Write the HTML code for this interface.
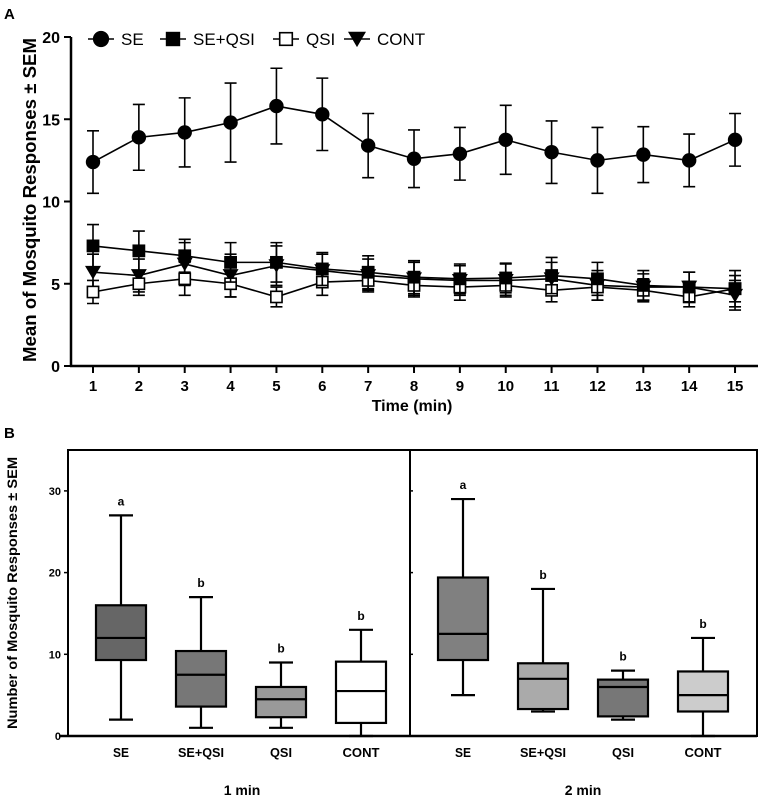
<!DOCTYPE html>
<html><head><meta charset="utf-8"><style>
body{margin:0;background:#fff}
svg{display:block;font-family:"Liberation Sans",Arial,sans-serif}
</style></head><body>
<svg id="chart" width="767" height="799" viewBox="0 0 767 799" xmlns="http://www.w3.org/2000/svg">
<text x="4" y="19" font-size="15" font-weight="bold">A</text>
<text x="4" y="438" font-size="15" font-weight="bold">B</text>
<g id="topchart"></g>
<g id="botchart"></g>
</svg>
<script>
const times=[1,2,3,4,5,6,7,8,9,10,11,12,13,14,15];
const yTicksA=[0,5,10,15,20];
const seMean=[12.4,13.9,14.2,14.8,15.8,15.3,13.4,12.6,12.9,13.75,13.0,12.5,12.85,12.5,13.75];
const seErr=[1.9,2.0,2.1,2.4,2.3,2.2,1.95,1.75,1.6,2.1,1.9,2.0,1.7,1.6,1.6];
const sqMean=[7.3,7.0,6.7,6.3,6.3,5.9,5.7,5.4,5.3,5.35,5.5,5.3,4.9,4.8,4.7];
const sqErr=[1.3,1.2,1.0,1.2,1.2,1.0,1.0,1.0,0.9,0.9,1.1,1.0,0.9,0.9,1.1];
const qsiMean=[4.5,5.0,5.3,5.0,4.2,5.1,5.2,4.9,4.8,4.9,4.6,4.8,4.6,4.2,4.7];
const qsiErr=[0.7,0.7,1.0,0.8,0.6,0.8,0.6,0.7,0.8,0.6,0.7,0.8,0.7,0.6,0.8];
const contMean=[5.7,5.5,6.2,5.5,6.1,5.8,5.5,5.3,5.2,5.2,5.3,4.9,4.8,4.8,4.3];
const contErr=[1.1,1.0,1.3,1.3,1.2,1.0,1.0,1.0,0.9,1.0,1.0,0.9,0.8,0.9,0.9];

const groups=["SE","SE+QSI","QSI","CONT","SE","SE+QSI","QSI","CONT"];
const panels=["1 min","2 min"];
const yTicksB=[0,10,20,30];
const wLo=[2,1,1,0,5,3,2,0];
const q1=[9.3,3.6,2.3,1.6,9.3,3.3,2.4,3.0];
const med=[12,7.5,4.5,5.5,12.5,7,6,5];
const q3=[16,10.4,6,9.1,19.4,8.9,6.9,7.9];
const wHi=[27,17,9,13,29,18,8,12];
const letters=["a","b","b","b","a","b","b","b"];
const fills=["#666","#777","#999","#fff","#808080","#aaa","#777","#ccc"];

const NS="http://www.w3.org/2000/svg";
function mk(p,t,a){const e=document.createElementNS(NS,t);for(const k in a)e.setAttribute(k,a[k]);p.appendChild(e);return e;}

// ---- Top chart
const gTop=document.getElementById('topchart');
const xA=t=>93+(t-1)*45.86;
const yA=v=>366-v*16.45;
let ax=mk(gTop,'line',{x1:71,y1:37,x2:71,y2:367,stroke:'#000','stroke-width':2.5});


ax=mk(gTop,'line',{x1:70,y1:366,x2:758,y2:366,stroke:'#000','stroke-width':2.5});


yTicksA.forEach(v=>{
  const l=mk(gTop,'line',{x1:64,y1:yA(v),x2:71,y2:yA(v),stroke:'#000','stroke-width':2});
  
  
  const t=mk(gTop,'text',{x:60,y:yA(v)+6,'font-size':16,'font-weight':'bold','text-anchor':'end'});t.textContent=v;
  
  
});
times.forEach(tm=>{
  const l=mk(gTop,'line',{x1:xA(tm),y1:366,x2:xA(tm),y2:373,stroke:'#000','stroke-width':2});
  
  
  const t=mk(gTop,'text',{x:xA(tm),y:391,'font-size':15,'font-weight':'bold','text-anchor':'middle'});t.textContent=tm;
  
  
});
let tt=mk(gTop,'text',{x:412,y:411,'font-size':16,'font-weight':'bold','text-anchor':'middle'});tt.textContent='Time (min)';


tt=mk(gTop,'text',{x:0,y:0,'font-size':18,'font-weight':'bold','text-anchor':'middle',textLength:324,lengthAdjust:'spacingAndGlyphs',transform:'translate(36,200) rotate(-90)'});tt.textContent='Mean of Mosquito Responses \u00b1 SEM';



function marker(g,type,x,y,s){
  if(type==='circle')return mk(g,'circle',{cx:x,cy:y,r:s*0.9,fill:'#000'});
  if(type==='sq')return mk(g,'rect',{x:x-s*0.8,y:y-s*0.8,width:s*1.6,height:s*1.6,fill:'#000'});
  if(type==='osq')return mk(g,'rect',{x:x-s*0.7,y:y-s*0.7,width:s*1.4,height:s*1.4,fill:'#fff',stroke:'#000','stroke-width':1.6});
  return mk(g,'path',{d:`M${x-s},${y-s*0.8} L${x+s},${y-s*0.8} L${x},${y+s*0.9}Z`,fill:'#000'});
}
const series=[
  {name:'cont',m:contMean,e:contErr,type:'tri'},
  {name:'qsi',m:qsiMean,e:qsiErr,type:'osq'},
  {name:'se-qsi',m:sqMean,e:sqErr,type:'sq'},
  {name:'se',m:seMean,e:seErr,type:'circle'}];
series.forEach(s=>{
  const g=mk(gTop,'g',{});
  
  
  const p=mk(g,'polyline',{points:times.map((tm,i)=>xA(tm)+','+yA(s.m[i])).join(' '),fill:'none',stroke:'#000','stroke-width':1.6});
  
  
  times.forEach((tm,i)=>{
    const x=xA(tm),hi=yA(s.m[i]+s.e[i]),lo=yA(s.m[i]-s.e[i]);
    const eb=mk(g,'path',{d:`M${x},${hi}V${lo}M${x-6},${hi}H${x+6}M${x-6},${lo}H${x+6}`,stroke:'#000','stroke-width':1.6,fill:'none'});
    
    
    const mkr=marker(g,s.type,x,yA(s.m[i]),8);
    
    
  });
});
const leg=[['circle','SE',88],['sq','SE+QSI',160],['osq','QSI',273],['tri','CONT',344]];
leg.forEach(l=>{
  const g=mk(gTop,'g',{});
  
  
  mk(g,'line',{x1:l[2],y1:39,x2:l[2]+26,y2:39,stroke:'#000','stroke-width':1.6});
  marker(g,l[0],l[2]+13,39,9);
  const tx=mk(g,'text',{x:l[2]+33,y:45,'font-size':17});tx.textContent=l[1];
});

// ---- Bottom chart
const gBot=document.getElementById('botchart');
const yB=v=>736-v*8.17;
const xB=[121,201,281,361,463,543,623,703];
let fr=mk(gBot,'rect',{x:68,y:450,width:689,height:286,fill:'none',stroke:'#000','stroke-width':2});


fr=mk(gBot,'line',{x1:410,y1:450,x2:410,y2:736,stroke:'#000','stroke-width':2});


mk(gBot,'line',{x1:60,y1:736,x2:757,y2:736,stroke:'#000','stroke-width':2.5});
yTicksB.forEach(v=>{
  const tk=mk(gBot,'line',{x1:64,y1:yB(v),x2:68,y2:yB(v),stroke:'#000','stroke-width':1.5});
  
  
  mk(gBot,'line',{x1:410,y1:yB(v),x2:413,y2:yB(v),stroke:'#000','stroke-width':1.5});
  const tx=mk(gBot,'text',{x:61,y:yB(v)+4,'font-size':11,'font-weight':'bold','text-anchor':'end'});tx.textContent=v;
  
  
});
tt=mk(gBot,'text',{x:0,y:0,'font-size':13.5,'font-weight':'bold','text-anchor':'middle',textLength:272,lengthAdjust:'spacingAndGlyphs',transform:'translate(17,593) rotate(-90)'});tt.textContent='Number of Mosquito Responses \u00b1 SEM';


const labW={"SE":16,"SE+QSI":46,"QSI":22,"CONT":37};
groups.forEach((gname,i)=>{
  const g=mk(gBot,'g',{});
  
  
  const x=xB[i],w=25;
  mk(g,'path',{d:`M${x},${yB(wHi[i])}V${yB(q3[i])}M${x},${yB(q1[i])}V${yB(wLo[i])}M${x-12},${yB(wHi[i])}H${x+12}M${x-12},${yB(wLo[i])}H${x+12}`,stroke:'#000','stroke-width':2.2,fill:'none'});
  mk(g,'rect',{x:x-w,y:yB(q3[i]),width:2*w,height:yB(q1[i])-yB(q3[i]),fill:fills[i],stroke:'#000','stroke-width':2.2});
  mk(g,'line',{x1:x-w,y1:yB(med[i]),x2:x+w,y2:yB(med[i]),stroke:'#000','stroke-width':2.2});
  const lt=mk(g,'text',{x:x,y:yB(wHi[i])-10,'font-size':12,'font-weight':'bold','text-anchor':'middle'});lt.textContent=letters[i];
  
  
  const cl=mk(gBot,'text',{x:x,y:757,'font-size':12.5,'font-weight':'bold','text-anchor':'middle',textLength:labW[gname],lengthAdjust:'spacingAndGlyphs'});cl.textContent=gname;
  
  
});
panels.forEach((p,i)=>{
  const tx=mk(gBot,'text',{x:[242,583][i],y:795,'font-size':14,'font-weight':'bold','text-anchor':'middle'});tx.textContent=p;
  
  
});
</script>
</body></html>
